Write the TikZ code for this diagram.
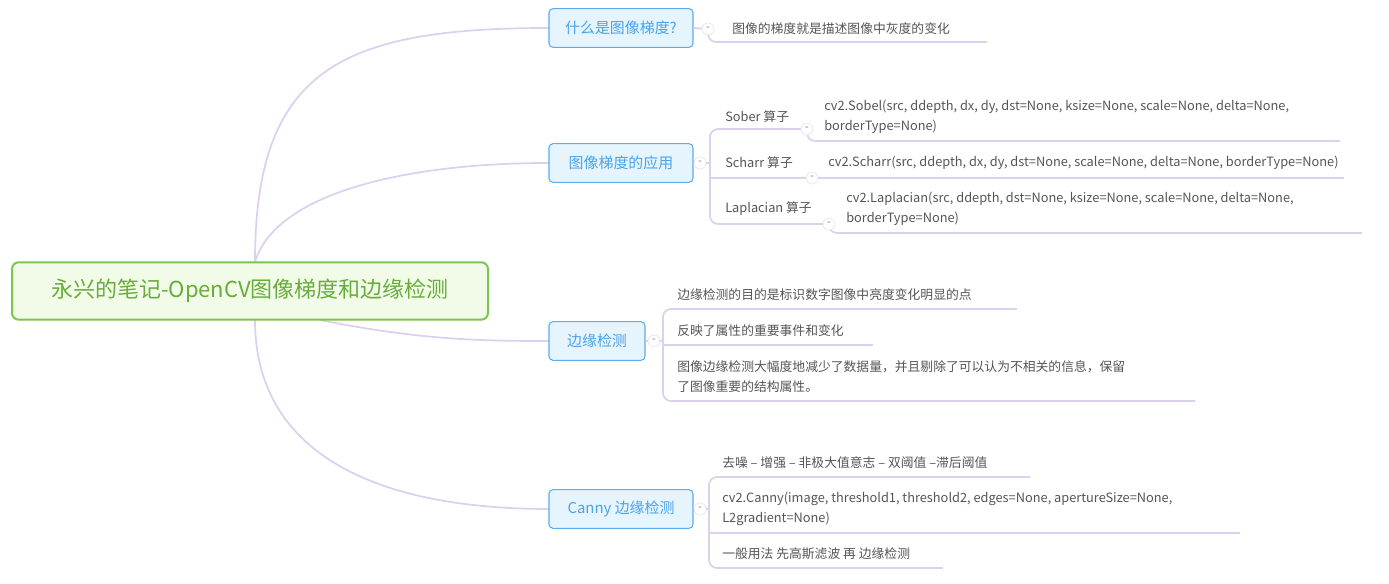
\documentclass[tikz,border=0pt]{standalone}
\usepackage{fontspec}
\setmainfont{Noto Sans CJK SC}
\begin{document}
\begin{tikzpicture}[x=0.75pt,y=-0.75pt,
  conn/.style={draw=lav,line width=1.3pt},
  rootbox/.style={draw=rootg,fill=rootf,line width=1.5pt,rounded corners=5pt,minimum width=357pt,minimum height=43pt,text=roott,font=\fontsize{16.5}{18}\selectfont},
  brbox/.style={draw=brb,fill=brf,line width=0.8pt,rounded corners=3pt,minimum height=29pt,text=brt,font=\fontsize{11.2}{13}\selectfont},
  leaf/.style={anchor=west,text=txt,font=\fontsize{9.6}{15}\selectfont,align=left,inner sep=0pt},
  foldmark/.style={circle,fill=white,draw=gray!25,inner sep=0pt,minimum size=9pt,font=\fontsize{8}{8}\selectfont,text=gray}]
\definecolor{lav}{HTML}{DCD0EE}
\definecolor{rootg}{HTML}{7DC552}
\definecolor{rootf}{HTML}{F1FBE8}
\definecolor{roott}{HTML}{68AD3C}
\definecolor{brb}{HTML}{5AAEF0}
\definecolor{brf}{HTML}{E6F4FD}
\definecolor{brt}{HTML}{4BA3EC}
\definecolor{txt}{HTML}{555555}
\useasboundingbox (0,0) rectangle (1389,584);
% root connectors
\coordinate (rt) at (255,262);
\coordinate (rb) at (255,320);
\draw[conn] (rt) .. controls (255,70) and (340,28) .. (549,28);
\draw[conn] (rt) .. controls (275,195) and (400,163) .. (549,163);
\draw[conn] (320,320) .. controls (420,340) and (480,341) .. (549,341);
\draw[conn] (rb) .. controls (255,450) and (370,509) .. (549,509);
\node[rootbox] (root) at (250,291) {永兴的笔记-OpenCV图像梯度和边缘检测};
\node[brbox,minimum width=108pt] (b1) at (621,28) {什么是图像梯度?};
\node[brbox,minimum width=108pt] (b2) at (621,163) {图像梯度的应用};
\node[brbox,minimum width=72pt] (b3) at (597,341) {边缘检测};
\node[brbox,minimum width=108pt] (b4) at (621,509) {Canny 边缘检测};
% branch 1
\draw[conn] (b1.east) -- (708,29);
\draw[conn,rounded corners=6pt] (708,29) |- (987,42);
\node[leaf] (l1) at (732,29) {图像的梯度就是描述图像中灰度的变化};
\node[foldmark] (m1) at (708,29) {-};
% branch 2
\draw[conn] (b2.east) -- (710,163);
\draw[conn,rounded corners=6pt] (807,129) -- (710,129) -- (710,224) -- (829,224);
\draw[conn] (710,178) -- (812,178);
\node[leaf] (s1) at (725,117) {Sober 算子};
\node[leaf] (s2) at (725,163) {Scharr 算子};
\node[leaf] (s3) at (725,209) {Laplacian 算子};
\draw[conn,rounded corners=6pt] (807,129) |- (1340,141);
\draw[conn] (812,178) -- (1344,178);
\draw[conn,rounded corners=6pt] (829,224) |- (1362,233);
\node[leaf] (g1) at (824,117) {cv2.Sobel(src, ddepth, dx, dy, dst=None, ksize=None, scale=None, delta=None,\\borderType=None)};
\node[leaf] (g2) at (828,163) {cv2.Scharr(src, ddepth, dx, dy, dst=None, scale=None, delta=None, borderType=None)};
\node[leaf] (g3) at (846,209) {cv2.Laplacian(src, ddepth, dst=None, ksize=None, scale=None, delta=None,\\borderType=None)};
\node[foldmark] (m2) at (700,163) {-};
\node[foldmark] (m21) at (807,129) {-};
\node[foldmark] (m22) at (812,178) {-};
\node[foldmark] (m23) at (829,224) {-};
% branch 3
\draw[conn] (b3.east) -- (663,341);
\draw[conn,rounded corners=6pt] (1017,309) -- (663,309) -- (663,401) -- (1195,401);
\draw[conn] (663,345) -- (873,345);
\node[leaf] (e1) at (677,295) {边缘检测的目的是标识数字图像中亮度变化明显的点};
\node[leaf] (e2) at (677,331) {反映了属性的重要事件和变化};
\node[leaf] (e3) at (677,377) {图像边缘检测大幅度地减少了数据量，并且剔除了可以认为不相关的信息，保留\\了图像重要的结构属性。};
\node[foldmark] (m3) at (654,341) {-};
% branch 4
\draw[conn] (b4.east) -- (709,509);
\draw[conn,rounded corners=6pt] (1030,477) -- (709,477) -- (709,568) -- (943,568);
\draw[conn] (709,533) -- (1240,533);
\node[leaf] (c1) at (722,463) {去噪 -- 增强 -- 非极大值意志 -- 双阈值 --滞后阈值};
\node[leaf] (c2) at (722,509) {cv2.Canny(image, threshold1, threshold2, edges=None, apertureSize=None,\\L2gradient=None)};
\node[leaf] (c3) at (722,554) {一般用法 先高斯滤波 再 边缘检测};
\node[foldmark] (m4) at (700,509) {-};
\end{tikzpicture}
\end{document}
